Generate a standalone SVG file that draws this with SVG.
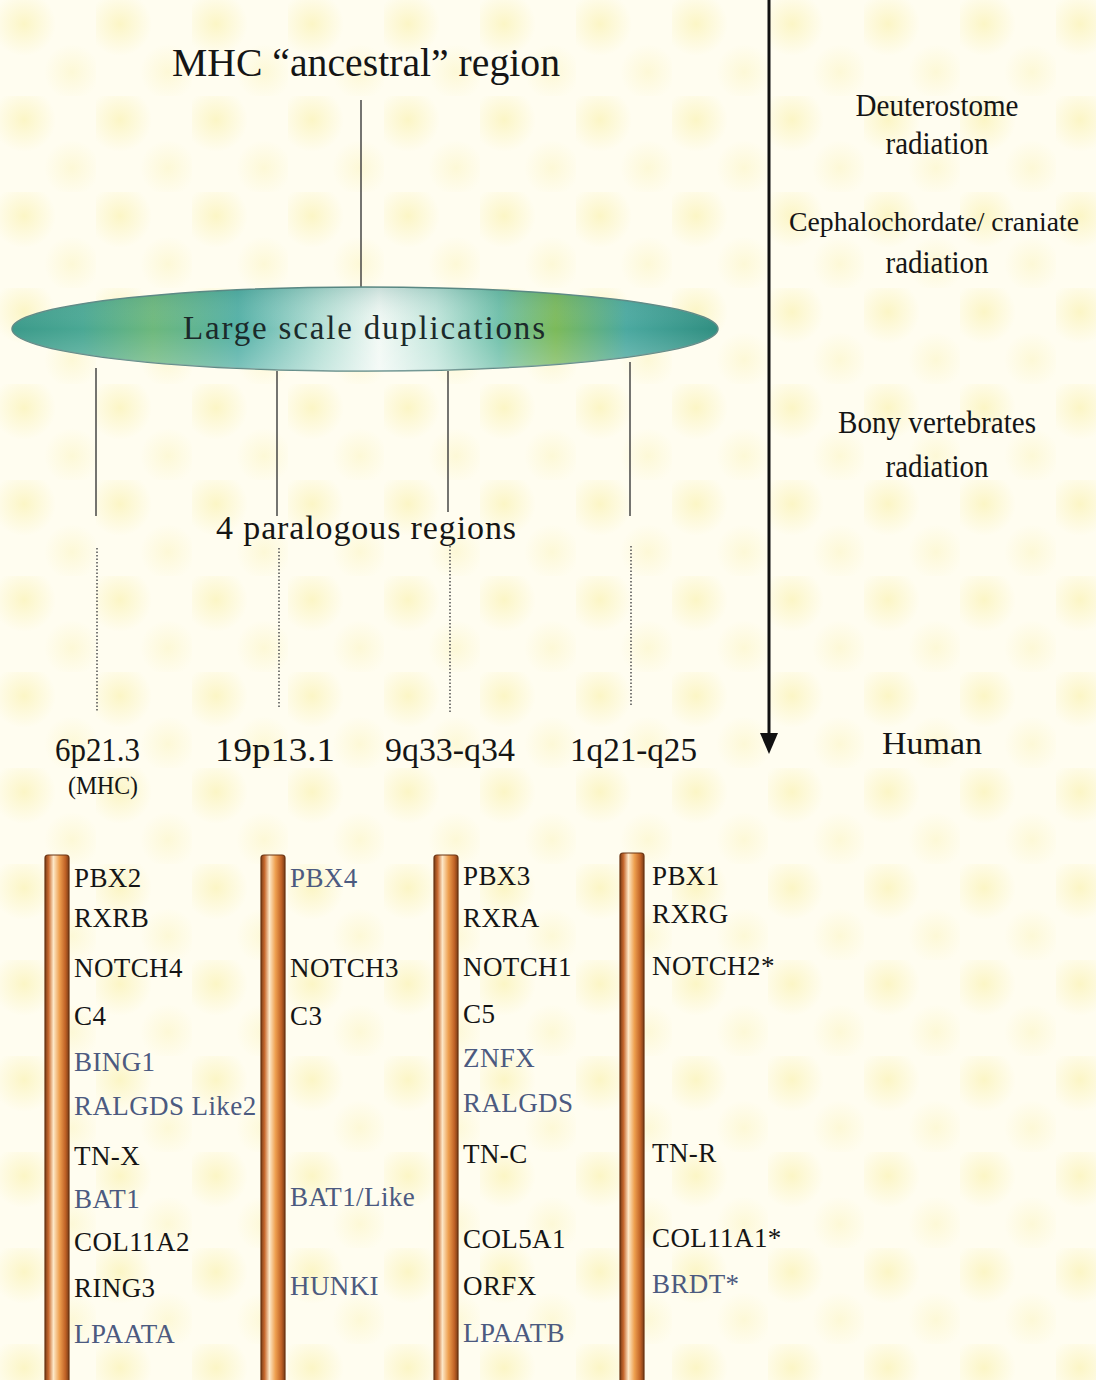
<svg xmlns="http://www.w3.org/2000/svg" width="1096" height="1380" viewBox="0 0 1096 1380">
<defs>
<style>
text{font-family:"Liberation Serif","Times New Roman",serif;fill:#151515}
.t{font-size:39px}
.lbl{font-size:34px}
.rt{font-size:32px;text-anchor:middle}
.g{font-size:27px;letter-spacing:0.4px}
.b{fill:#4c5a80}
.solid{stroke:#3a3a3a;stroke-width:1.4;fill:none}
.dot{stroke:#5a5a5a;stroke-width:1.6;stroke-dasharray:1.5 2;fill:none}
.chr{fill:url(#chrG);stroke:#6b3412;stroke-width:1.2}
</style>
<radialGradient id="spot">
<stop offset="0" stop-color="#f8ee9c" stop-opacity="0.5"/>
<stop offset="1" stop-color="#f8ee9c" stop-opacity="0"/>
</radialGradient>
<pattern id="bg" width="96" height="96" patternUnits="userSpaceOnUse">
<rect width="96" height="96" fill="#fffdf0"/>
<circle cx="24" cy="24" r="32" fill="url(#spot)"/>
<circle cx="72" cy="72" r="28" fill="url(#spot)" opacity="0.6"/>
</pattern>
<linearGradient id="lensG" x1="12" y1="0" x2="718" y2="0" gradientUnits="userSpaceOnUse">
<stop offset="0" stop-color="#3b9a8a"/>
<stop offset="0.1" stop-color="#4aa894"/>
<stop offset="0.2" stop-color="#6db87c"/>
<stop offset="0.32" stop-color="#53b0a6"/>
<stop offset="0.44" stop-color="#b6e0d6"/>
<stop offset="0.52" stop-color="#f2f9f5"/>
<stop offset="0.6" stop-color="#c2e6dc"/>
<stop offset="0.69" stop-color="#6fc0aa"/>
<stop offset="0.77" stop-color="#7cba5a"/>
<stop offset="0.87" stop-color="#4ba9a0"/>
<stop offset="1" stop-color="#2f8e80"/>
</linearGradient>
<linearGradient id="lensV" x1="0" y1="287" x2="0" y2="371" gradientUnits="userSpaceOnUse">
<stop offset="0" stop-color="#1f6f66" stop-opacity="0.2"/>
<stop offset="0.5" stop-color="#ffffff" stop-opacity="0"/>
<stop offset="1" stop-color="#ffffff" stop-opacity="0.25"/>
</linearGradient>
<linearGradient id="chrG" x1="0" y1="0" x2="1" y2="0">
<stop offset="0" stop-color="#7a3c16"/>
<stop offset="0.15" stop-color="#c86a30"/>
<stop offset="0.35" stop-color="#fde8c8"/>
<stop offset="0.6" stop-color="#eea050"/>
<stop offset="0.85" stop-color="#c06226"/>
<stop offset="1" stop-color="#7a3c16"/>
</linearGradient>
</defs>
<rect width="1096" height="1380" fill="url(#bg)"/>

<g id="connectors">
<line class="solid" x1="361" y1="100" x2="361" y2="288"/>
<line class="solid" x1="96" y1="368" x2="96" y2="516"/>
<line class="solid" x1="277" y1="371" x2="277" y2="516"/>
<line class="solid" x1="448" y1="371" x2="448" y2="512"/>
<line class="solid" x1="630" y1="362" x2="630" y2="516"/>
<line class="dot" x1="97" y1="548" x2="97" y2="712"/>
<line class="dot" x1="279" y1="548" x2="279" y2="708"/>
<line class="dot" x1="450" y1="546" x2="450" y2="712"/>
<line class="dot" x1="631" y1="546" x2="631" y2="706"/>
</g>

<g id="time-arrow">
<line x1="769" y1="0" x2="769" y2="736" stroke="#111" stroke-width="3"/>
<polygon points="760,733 778,733 769,754" fill="#111"/>
</g>

<g id="title"><text class="t" x="172" y="76" textLength="388" lengthAdjust="spacingAndGlyphs">MHC “ancestral” region</text></g>

<g id="duplications">
<ellipse cx="365" cy="329" rx="353" ry="42" fill="url(#lensG)" stroke="#5f8a86" stroke-width="1.5"/>
<ellipse cx="365" cy="329" rx="353" ry="42" fill="url(#lensV)"/>
<text x="183" y="339" style="font-size:33px;fill:#1b2a2a" textLength="362" lengthAdjust="spacing">Large scale duplications</text>
</g>

<g id="paralogous"><text x="216" y="539" style="font-size:34px" textLength="300" lengthAdjust="spacing">4 paralogous regions</text></g>

<g id="region-6p">
<text class="lbl" x="55" y="761" textLength="85" lengthAdjust="spacingAndGlyphs">6p21.3</text>
<text x="68" y="794" style="font-size:25px" textLength="70" lengthAdjust="spacingAndGlyphs">(MHC)</text>
</g>
<g id="region-19p"><text class="lbl" x="215" y="761" textLength="120" lengthAdjust="spacingAndGlyphs">19p13.1</text></g>
<g id="region-9q"><text class="lbl" x="385" y="761" textLength="130" lengthAdjust="spacingAndGlyphs">9q33-q34</text></g>
<g id="region-1q"><text class="lbl" x="570" y="761" textLength="127" lengthAdjust="spacingAndGlyphs">1q21-q25</text></g>

<g id="era-deuterostome">
<text class="rt" x="937" y="116" textLength="163" lengthAdjust="spacingAndGlyphs">Deuterostome</text>
<text class="rt" x="937" y="154" textLength="103" lengthAdjust="spacingAndGlyphs">radiation</text>
</g>
<g id="era-cephalochordate">
<text class="rt" x="934" y="231" style="font-size:28px" textLength="290" lengthAdjust="spacingAndGlyphs">Cephalochordate/ craniate</text>
<text class="rt" x="937" y="273" textLength="103" lengthAdjust="spacingAndGlyphs">radiation</text>
</g>
<g id="era-bony">
<text class="rt" x="937" y="433" textLength="198" lengthAdjust="spacingAndGlyphs">Bony vertebrates</text>
<text class="rt" x="937" y="477" textLength="103" lengthAdjust="spacingAndGlyphs">radiation</text>
</g>
<g id="era-human"><text class="rt" x="932" y="754" textLength="100" lengthAdjust="spacingAndGlyphs">Human</text></g>

<g id="chr-6p21">
<rect class="chr" x="45" y="855" width="24" height="540" rx="3"/>
<text class="g" x="74" y="887">PBX2</text>
<text class="g" x="74" y="927">RXRB</text>
<text class="g" x="74" y="977">NOTCH4</text>
<text class="g" x="74" y="1025">C4</text>
<text class="g b" x="74" y="1071">BING1</text>
<text class="g b" x="74" y="1115">RALGDS Like2</text>
<text class="g" x="74" y="1165">TN-X</text>
<text class="g b" x="74" y="1208">BAT1</text>
<text class="g" x="74" y="1251">COL11A2</text>
<text class="g" x="74" y="1297">RING3</text>
<text class="g b" x="74" y="1343">LPAATA</text>
</g>

<g id="chr-19p13">
<rect class="chr" x="261" y="855" width="24" height="540" rx="3"/>
<text class="g b" x="290" y="887">PBX4</text>
<text class="g" x="290" y="977">NOTCH3</text>
<text class="g" x="290" y="1025">C3</text>
<text class="g b" x="290" y="1206">BAT1/Like</text>
<text class="g b" x="290" y="1295">HUNKI</text>
</g>

<g id="chr-9q33">
<rect class="chr" x="434" y="855" width="24" height="540" rx="3"/>
<text class="g" x="463" y="885">PBX3</text>
<text class="g" x="463" y="927">RXRA</text>
<text class="g" x="463" y="976">NOTCH1</text>
<text class="g" x="463" y="1023">C5</text>
<text class="g b" x="463" y="1067">ZNFX</text>
<text class="g b" x="463" y="1112">RALGDS</text>
<text class="g" x="463" y="1163">TN-C</text>
<text class="g" x="463" y="1248">COL5A1</text>
<text class="g" x="463" y="1295">ORFX</text>
<text class="g b" x="463" y="1342">LPAATB</text>
</g>

<g id="chr-1q21">
<rect class="chr" x="620" y="853" width="24" height="540" rx="3"/>
<text class="g" x="652" y="885">PBX1</text>
<text class="g" x="652" y="923">RXRG</text>
<text class="g" x="652" y="975">NOTCH2*</text>
<text class="g" x="652" y="1162">TN-R</text>
<text class="g" x="652" y="1247">COL11A1*</text>
<text class="g b" x="652" y="1293">BRDT*</text>
</g>
</svg>
